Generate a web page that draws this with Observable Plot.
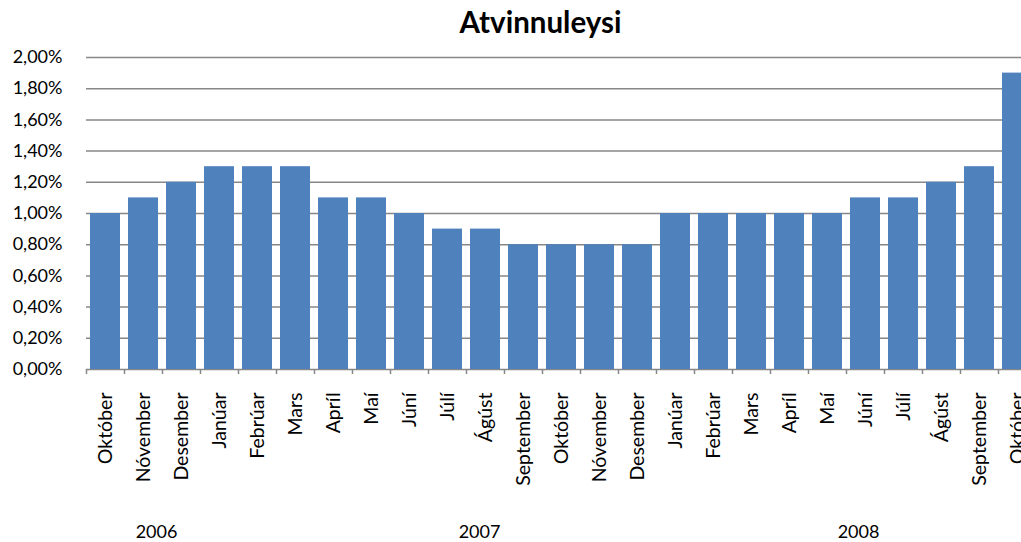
<!DOCTYPE html>
<html>
<head>
<meta charset="utf-8">
<script src="https://cdn.jsdelivr.net/npm/d3@7"></script>
<script src="https://cdn.jsdelivr.net/npm/@observablehq/plot@0.6"></script>
<style>
  html, body { margin: 0; padding: 0; background: #fff; overflow: hidden; }
  #title { height: 40px; box-sizing: border-box; padding-top: 7px; padding-left: 60px;
           font-family: Lato, "Open Sans", sans-serif; font-weight: bold; font-size: 29.5px;
           line-height: 1; text-align: center; color: #000; width: 1021px; }
</style>
</head>
<body>
<div id="title">Atvinnuleysi</div>
<div id="chart"></div>
<script>
const monthLabels = ["Október","Nóvember","Desember","Janúar","Febrúar","Mars","Apríl","Maí","Júní","Júlí","Ágúst","September","Október","Nóvember","Desember","Janúar","Febrúar","Mars","Apríl","Maí","Júní","Júlí","Ágúst","September","Október"];
const monthYears = [2006,2006,2006,2007,2007,2007,2007,2007,2007,2007,2007,2007,2007,2007,2007,2008,2008,2008,2008,2008,2008,2008,2008,2008,2008];
const unemployment = [1.0,1.1,1.2,1.3,1.3,1.3,1.1,1.1,1.0,0.9,0.9,0.8,0.8,0.8,0.8,1.0,1.0,1.0,1.0,1.0,1.1,1.1,1.2,1.3,1.9];
const yTicks = [0,0.2,0.4,0.6,0.8,1.0,1.2,1.4,1.6,1.8,2.0];
const yearLabels = ["2006","2007","2008"];
const yearAnchorIndex = [1,10,20];
const yearOffsets = [13,-6,-7];

const keys = monthLabels.map((m, i) => monthYears[i] + " " + m);
const data = keys.map((k, i) => ({key: k, label: monthLabels[i], value: unemployment[i]}));

const xRange = [86, 1036];
const step = (xRange[1] - xRange[0]) / keys.length;
const fmt = d => d.toFixed(2).replace(".", ",") + "%";
const font = "Lato, 'Open Sans', sans-serif";

const chart = Plot.plot({
  width: 1021,
  height: 502,
  marginTop: 17,
  marginBottom: 173,
  marginLeft: 86,
  marginRight: 0,
  style: {fontFamily: font, fontSize: "18px", color: "#000", background: "#fff"},
  x: {type: "band", domain: keys, range: xRange, paddingInner: 0.22, paddingOuter: 0.11},
  y: {domain: [0, 2.0]},
  marks: [
    Plot.ruleY(yTicks, {y: d => d, stroke: "#878787", strokeWidth: 1.5}),
    Plot.barY(data, {x: "key", y: "value", fill: "#4f81bd"}),
    Plot.axisY(yTicks, {tickSize: 0, tickPadding: 24, tickFormat: fmt, fontSize: 18, fill: "#000", label: null}),
    Plot.axisX({tickSize: 5, tickFormat: () => "", dx: -step / 2, stroke: "#878787", strokeWidth: 1.5, label: null}),
    Plot.text(data, {x: "key", text: "label", frameAnchor: "bottom", rotate: -90, textAnchor: "end", lineAnchor: "middle", dy: 23, fontSize: 19.5, fill: "#000"}),
    ...yearLabels.map((yl, j) => Plot.text([yl], {x: () => keys[yearAnchorIndex[j]], text: d => d, frameAnchor: "bottom", lineAnchor: "middle", dy: 163, dx: yearOffsets[j], fontSize: 18, fill: "#000"}))
  ]
});
document.getElementById("chart").appendChild(chart);
</script>
</body>
</html>
